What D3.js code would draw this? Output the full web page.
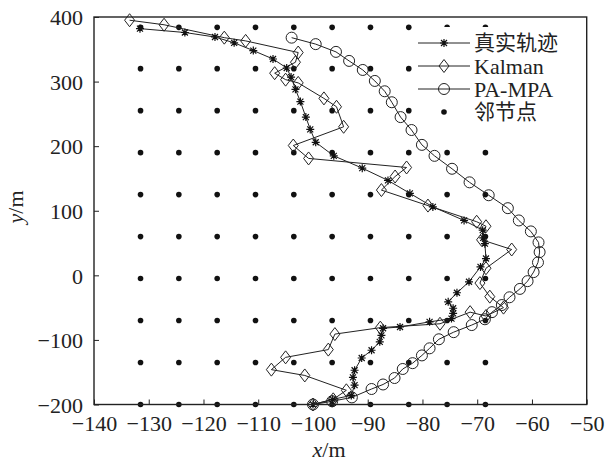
<!DOCTYPE html>
<html>
<head>
<meta charset="utf-8">
<script src="https://cdn.jsdelivr.net/npm/d3@7"></script>
<style>
body{margin:0;background:#fff;}
text{font-family:"Liberation Serif","Times New Roman",serif;}
</style>
</head>
<body>
<script>
// true track (bottom start -> top left end)
var trueX = [-100, -96.4, -93, -92.4, -92.7, -92.4, -91.1, -89.3, -87.8, -87.5, -87.2, -84.1, -78.7, -74.7, -74.4, -74.4, -75.3, -73.7, -71.5, -69.4, -68.4, -68.6, -68.9, -69, -72.4, -78.1, -82.3, -86.3, -91, -96.2, -99.5, -100.5, -101.3, -102.3, -103.2, -104, -104.8, -107.3, -110.9, -114.4, -117.9, -123.4, -131.6];
var trueY = [-200, -192, -186, -170, -158, -147, -128, -116, -103, -93, -82, -80, -72, -67, -59, -51, -41, -27, -10, 13, 26, 49, 58, 70, 85, 106, 127, 147, 166, 185, 206, 226, 245, 269, 288, 307, 321, 335, 348, 360, 369, 376, 382];

// Kalman estimate
var kalmanX = [-100, -96.3, -93.9, -101.5, -107.6, -105, -97.2, -96, -87.7, -76.8, -71.3, -68.4, -65.2, -67.7, -69.5, -68.4, -63.7, -69.2, -68.4, -70.1, -79, -87.5, -85, -82.9, -100.8, -103.6, -94.4, -95.7, -98, -102.7, -105, -107, -103.2, -102.7, -112.3, -116.2, -127.2, -133.5];
var kalmanY = [-200, -192, -178, -155, -146, -127, -115, -91, -81, -75, -57, -63, -50, -33, -12, 11, 40, 55, 76, 83, 108, 132, 153, 167, 181, 201, 230, 261, 274, 298, 303, 313, 330, 345, 363, 368, 388, 395];

// PA-MPA estimate
var mpaX = [-100, -96.5, -92.9, -89.3, -87.2, -85.1, -83.6, -81.8, -80.1, -78.7, -77, -74.3, -71, -68.6, -67.3, -65.5, -64.1, -62.2, -60.8, -59.7, -58.9, -58.6, -58.8, -60.2, -62.4, -64.4, -67.9, -71.4, -74.6, -77.8, -80.1, -82, -84, -85.6, -86.9, -88.7, -90.9, -93.4, -95.8, -99.5, -103.9];
var mpaY = [-200, -195, -189, -176, -169, -159, -145, -136, -124, -113, -99, -88, -77, -68, -57, -46, -34, -21, -9, 5, 20, 36, 51, 68, 85, 104, 124, 144, 165, 185, 202, 225, 245, 268, 285, 301, 318, 332, 346, 358, 368];

// neighbour nodes grid
var nodeX = [-131.5, -124.5, -117.5, -110.5, -103.5, -96.5, -89.5, -82.5, -75.5, -68.5];
var nodeY = [-200, -135, -70, -5, 60, 125, 190, 255, 320, 384];

var xTicks = [-140, -130, -120, -110, -100, -90, -80, -70, -60, -50];
var yTicks = [-200, -100, 0, 100, 200, 300, 400];

var legendNames = ["真实轨迹", "Kalman", "PA-MPA", "邻节点"];

window.onload = function(){

    var w = 608, h = 461;
    var left = 94, right = 586.7, top = 17, bottom = 404.5;

    var svg = d3.select("body")
        .append("svg")
        .attr("width", w)
        .attr("height", h);

    var x = d3.scaleLinear().domain([-140, -50]).range([left, right]);
    var y = d3.scaleLinear().domain([-200, 400]).range([bottom, top]);

    // grid of nodes
    var nodes = [];
    nodeY.forEach(function(yy){
        nodeX.forEach(function(xx){ nodes.push([xx, yy]); });
    });
    svg.selectAll(".node")
        .data(nodes)
        .enter()
        .append("circle")
        .attr("class", "node")
        .attr("cx", function(d){ return x(d[0]); })
        .attr("cy", function(d){ return y(d[1]); })
        .attr("r", 2.8)
        .style("fill", "#111");

    var line = d3.line()
        .x(function(d){ return x(d[0]); })
        .y(function(d){ return y(d[1]); });

    function zipXY(a, b){
        return a.map(function(v, i){ return [v, b[i]]; });
    }

    var trueData = zipXY(trueX, trueY);
    var kalmanData = zipXY(kalmanX, kalmanY);
    var mpaData = zipXY(mpaX, mpaY);

    // marker shapes
    var starPath = "M-4,0H4M0,-4V4M-3,-3L3,3M-3,3L3,-3";
    var diamondPath = "M0,-6.5L5,0L0,6.5L-5,0Z";

    function drawSeries(data, cls, marker){
        svg.append("path")
            .datum(data)
            .attr("d", line)
            .style("fill", "none")
            .style("stroke", "#222")
            .style("stroke-width", 1);

        var g = svg.selectAll("." + cls)
            .data(data)
            .enter()
            .append("g")
            .attr("class", cls)
            .attr("transform", function(d){ return "translate(" + x(d[0]) + "," + y(d[1]) + ")"; });
        addMarker(g, marker);
    }

    function addMarker(g, marker){
        if (marker === "circle"){
            g.append("circle").attr("r", 5.5)
                .style("fill", "none").style("stroke", "#222").style("stroke-width", 1);
        } else if (marker === "diamond"){
            g.append("path").attr("d", diamondPath)
                .style("fill", "none").style("stroke", "#222").style("stroke-width", 1);
        } else if (marker === "star"){
            g.append("path").attr("d", starPath)
                .style("fill", "none").style("stroke", "#111").style("stroke-width", 1.2);
        } else {
            g.append("circle").attr("r", 2.8).style("fill", "#111");
        }
    }

    drawSeries(mpaData, "mpa", "circle");
    drawSeries(kalmanData, "kalman", "diamond");
    drawSeries(trueData, "truth", "star");

    // frame
    svg.append("rect")
        .attr("x", left)
        .attr("y", top)
        .attr("width", right - left)
        .attr("height", bottom - top)
        .style("fill", "none")
        .style("stroke", "#222")
        .style("stroke-width", 1.4);

    // axes with inward ticks
    var xAxis = d3.axisBottom(x).tickValues(xTicks).tickSize(-5).tickPadding(11);
    var yAxis = d3.axisLeft(y).tickValues(yTicks).tickSize(-5).tickPadding(11);

    var gx = svg.append("g")
        .attr("transform", "translate(0," + bottom + ")")
        .call(xAxis);
    var gy = svg.append("g")
        .attr("transform", "translate(" + left + ",0)")
        .call(yAxis);

    [gx, gy].forEach(function(g){
        g.select(".domain").remove();
        g.selectAll("line").style("stroke", "#222");
        g.selectAll("text")
            .style("font-size", "22px")
            .style("fill", "#222")
            .style("font-family", "'Liberation Serif','Times New Roman',serif");
    });
    gy.selectAll("text").attr("dy", "0.35em");

    // axis titles
    var xt = svg.append("text")
        .attr("x", 329)
        .attr("y", 457)
        .attr("text-anchor", "middle")
        .style("font-size", "22px")
        .style("fill", "#222");
    xt.append("tspan").style("font-style", "italic").text("x");
    xt.append("tspan").text("/m");

    var yt = svg.append("text")
        .attr("transform", "translate(23,207) rotate(-90)")
        .attr("text-anchor", "middle")
        .style("font-size", "22px")
        .style("fill", "#222");
    yt.append("tspan").style("font-style", "italic").text("y");
    yt.append("tspan").text("/m");

    // legend
    var legend = svg.append("g").attr("class", "legend");
    legend.append("rect")
        .attr("x", 414)
        .attr("y", 27)
        .attr("width", 160)
        .attr("height", 96)
        .style("fill", "#fff");

    var markers = ["star", "diamond", "circle", "dot"];
    legendNames.forEach(function(name, i){
        var ly = 43 + i * 23;
        if (i < 3){
            legend.append("line")
                .attr("x1", 418).attr("x2", 470)
                .attr("y1", ly).attr("y2", ly)
                .style("stroke", "#222")
                .style("stroke-width", 1);
        }
        var mg = legend.append("g").attr("transform", "translate(444," + ly + ")");
        addMarker(mg, markers[i]);
        legend.append("text")
            .attr("x", 474)
            .attr("y", ly)
            .attr("dy", "0.35em")
            .style("font-size", (i === 0 || i === 3) ? "21px" : "22px")
            .style("fill", "#222")
            .style("font-family", "'Liberation Serif','Noto Sans CJK SC',serif")
            .text(name);
    });
};
</script>
</body>
</html>
